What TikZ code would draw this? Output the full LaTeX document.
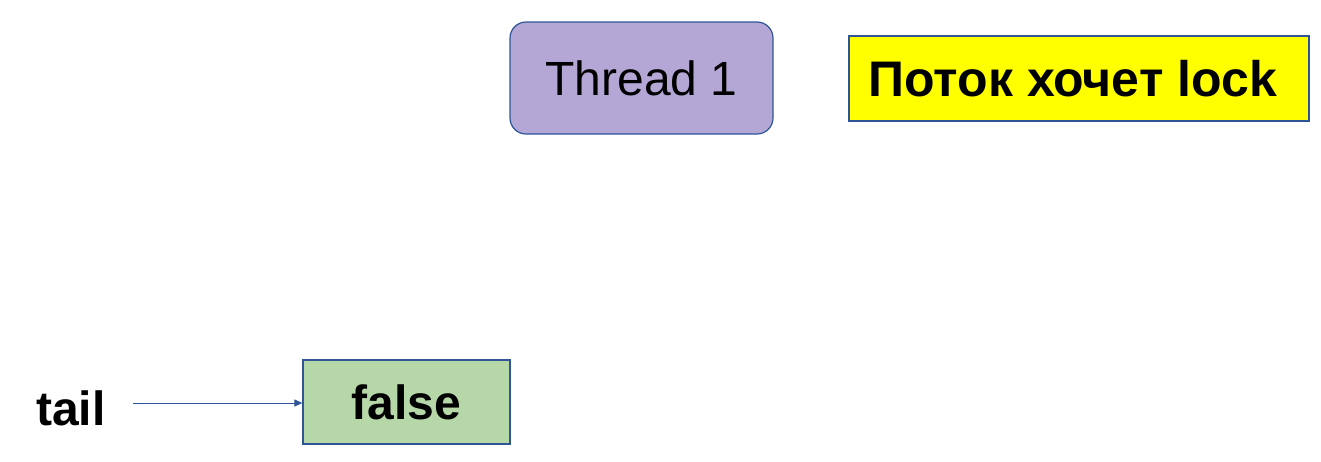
\documentclass[tikz,border=0pt]{standalone}
\usepackage{fontspec}
\setmainfont{Liberation Sans}
\usetikzlibrary{arrows.meta}
\definecolor{edgeblue}{HTML}{2F5597}
\definecolor{lilac}{HTML}{B4A7D6}
\definecolor{leaf}{HTML}{B6D7A8}
\definecolor{brightyellow}{HTML}{FFFF00}
\begin{document}
\begin{tikzpicture}[x=1pt,y=-1pt,
  box/.style={draw=edgeblue,line width=1.2pt,inner sep=0pt,align=center},
  big/.style={font=\fontsize{48}{56}\selectfont},
  bigb/.style={font=\fontsize{48}{56}\selectfont\bfseries}]
\useasboundingbox (0,0) rectangle (1321,461);
\node[box,big,fill=lilac,rounded corners=16pt,minimum width=263pt,minimum height=112pt] (thread) at (641.5,78) {Thread 1};
\node[box,font=\fontsize{50}{58}\selectfont\bfseries,fill=brightyellow,minimum width=460pt,minimum height=85pt] (note) at (1079,78.5) {Поток хочет lock\hspace{12pt}};
\node[box,bigb,fill=leaf,minimum width=207pt,minimum height=84pt] (false) at (406.5,402) {false};
\node[bigb,inner sep=0pt] (tail) at (71,408) {tail};
\coordinate (tailend) at (133,403);
\draw[edgeblue,line width=1pt,-{Triangle[length=8pt,width=7pt]}] (tailend) -- (false.west|-tailend);
\end{tikzpicture}
\end{document}
